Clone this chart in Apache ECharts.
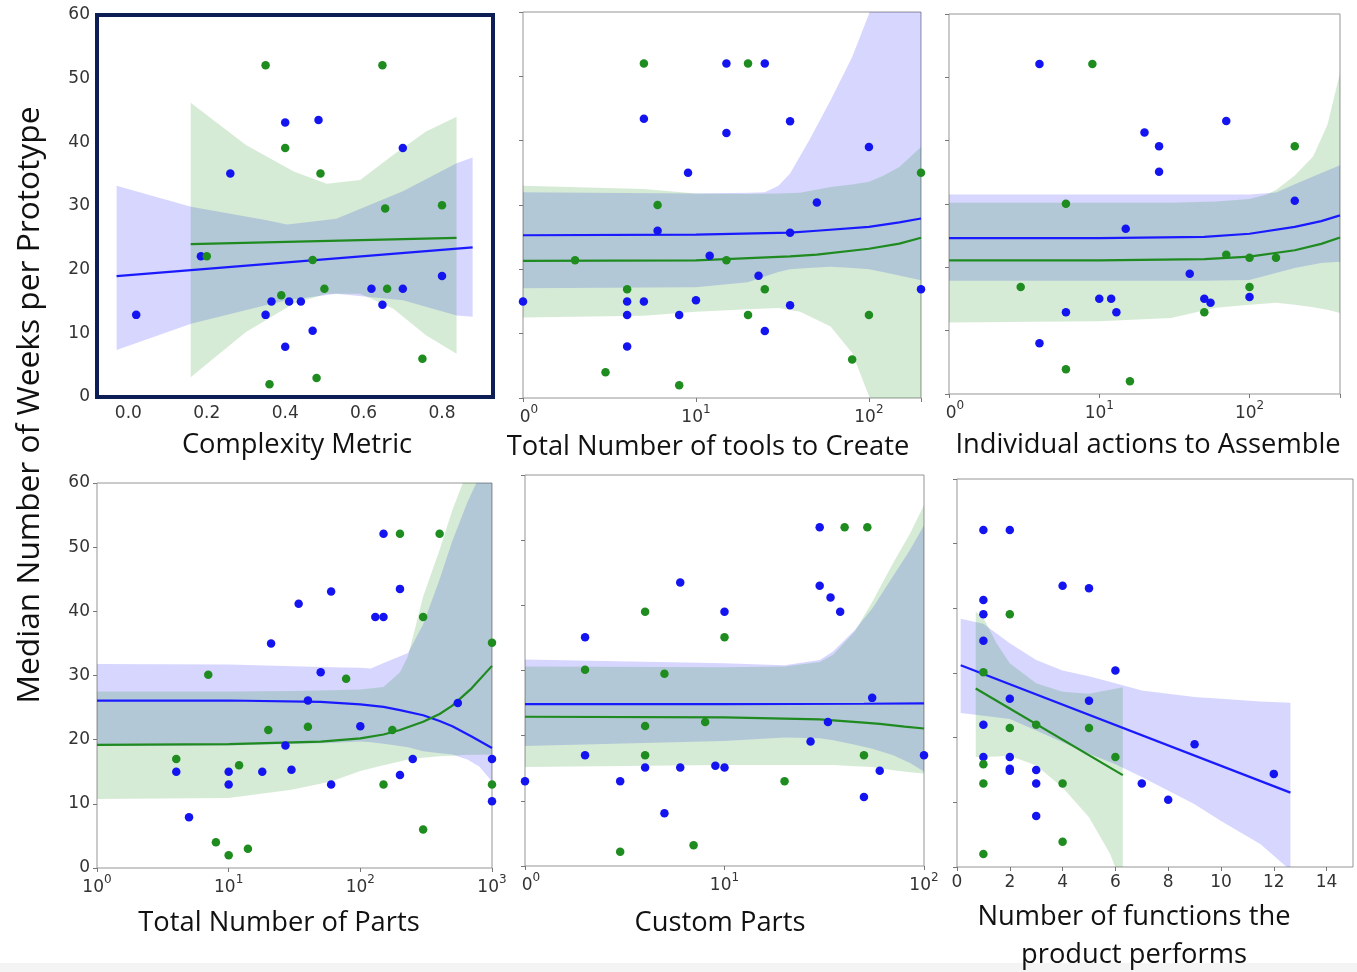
<!DOCTYPE html>
<html>
<head>
<meta charset="utf-8">
<script src="https://cdn.jsdelivr.net/npm/echarts@6/dist/echarts.min.js"></script>
<style>
html,body{margin:0;padding:0;background:#fff;}
#c{width:1357px;height:972px;}
</style>
</head>
<body>
<div id="c"></div>
<script>
// ---------------- DATA ----------------
const yTickValues = [0, 10, 20, 30, 40, 50, 60];
const p1XTicks = [0, 0.2, 0.4, 0.6, 0.8];
const p6XTicks = [0, 2, 4, 6, 8, 10, 12, 14];
// log-axis labels: [base text, exponent] per decade (first label of some panels is cropped in the source)
const p2XLabels = [['0', '0'], ['10', '1'], ['10', '2']];
const p3XLabels = [['0', '0'], ['10', '1'], ['10', '2']];
const p4XLabels = [['10', '0'], ['10', '1'], ['10', '2'], ['10', '3']];
const p5XLabels = [['0', '0'], ['10', '1'], ['10', '2']];

const xTitles = ['Complexity Metric', 'Total Number of tools to Create', 'Individual actions to Assemble',
  'Total Number of Parts', 'Custom Parts', 'Number of functions the\nproduct performs'];
const yTitle = 'Median Number of Weeks per Prototype';

// Panel 1: Complexity Metric
const p1Blue = [[0.40,43.1],[0.485,43.5],[0.70,39.1],[0.26,35.1],[0.185,22.1],[0.80,19.0],[0.62,17.0],[0.70,17.0],[0.365,15.0],[0.41,15.0],[0.44,15.0],[0.648,14.5],[0.02,12.9],[0.35,12.9],[0.47,10.4],[0.40,7.9]];
const p1Green = [[0.35,52.1],[0.648,52.1],[0.40,39.1],[0.49,35.1],[0.655,29.6],[0.80,30.1],[0.20,22.1],[0.47,21.5],[0.39,16.0],[0.50,17.0],[0.66,17.0],[0.75,6.0],[0.48,3.0],[0.36,2.0]];
const p1BlueLine = [[-0.03,19.0],[0.878,23.5]];
const p1GreenLine = [[0.159,24.0],[0.837,25.0]];
const p1BlueBand = [[-0.03,7.4,33.2],[0.16,11.5,29.9],[0.35,14.4,27.8],[0.405,15.2,27.1],[0.53,16.2,28.0],[0.70,15.2,32.3],[0.837,12.8,36.7],[0.878,12.6,37.6]];
const p1GreenBand = [[0.159,3.1,46.2],[0.30,10.2,39.6],[0.422,14.7,35.4],[0.506,16.2,33.5],[0.591,16.2,34.1],[0.675,13.9,38.0],[0.759,9.7,41.7],[0.837,6.8,44.0]];

// Panel 2: Total Number of tools to Create
const p2Blue = [[15,52],[25,52],[5,43.4],[35,43.0],[15,41.2],[100,39.0],[9,35.0],[50,30.4],[6,26.0],[35,25.7],[12,22.1],[23,19.0],[1,15.0],[4,15.0],[5,15.0],[10,15.2],[4,12.9],[8,12.9],[35,14.4],[25,10.4],[4,8.0],[200,16.9]];
const p2Green = [[5,52],[20,52],[6,30.0],[200,35.0],[2,21.4],[15,21.4],[4,16.9],[25,16.9],[20,12.9],[100,12.9],[80,6.0],[3,4.0],[8,2.0]];
const p2BlueLine = [[1,25.3],[10,25.4],[35,25.7],[50,26.0],[100,26.6],[150,27.3],[200,27.9]];
const p2GreenLine = [[1,21.3],[10,21.4],[35,22.0],[50,22.3],[100,23.2],[150,24.0],[200,24.9]];
const p2BlueBand = [[1,17.05,32.0],[10,17.2,31.8],[20,18.0,31.9],[25,18.9,32.0],[30,19.6,33.0],[35,20.0,34.9],[45,20.2,40.0],[60,20.4,46.3],[80,20.2,53.0],[100,20.0,59.7],[120,19.6,66],[200,18.3,90]];
const p2GreenBand = [[1,12.5,33.0],[5,12.8,32.5],[10,13.4,31.8],[20,13.8,31.7],[30,14.0,31.8],[40,13.4,31.9],[60,11.1,32.8],[80,7.0,33.2],[100,0.3,33.6],[120,-5,34.5],[150,-12,35.9],[200,-20,39.0]];

// Panel 3: Individual actions to Assemble
const p3Blue = [[4,52.1],[70,43.1],[20,41.3],[25,39.1],[25,35.1],[200,30.5],[15,26.1],[40,19.0],[10,15.05],[12,15.05],[13,12.9],[6,12.9],[50,15.05],[55,14.4],[100,15.3],[4,8.0]];
const p3Green = [[9,52.1],[200,39.1],[6,30.05],[70,22.0],[100,21.5],[150,21.5],[3,16.9],[100,16.9],[50,12.9],[6,3.9],[16,2.0]];
const p3BlueLine = [[1,24.6],[10,24.6],[50,24.8],[100,25.3],[200,26.4],[300,27.3],[400,28.2]];
const p3GreenLine = [[1,21.1],[10,21.1],[50,21.3],[100,21.7],[200,22.7],[300,23.7],[400,24.7]];
const p3BlueBand = [[1,17.9,31.5],[10,17.9,31.5],[50,17.9,31.5],[100,18.0,31.5],[150,19.1,31.8],[200,19.9,33.1],[300,20.7,34.9],[400,20.9,36.1]];
const p3GreenBand = [[1,11.3,30.2],[10,11.5,30.2],[30,12.0,30.2],[60,13.6,30.4],[100,14.1,30.8],[130,14.3,31.5],[150,14.4,32.2],[200,14.1,34.5],[265,13.7,37.5],[330,13.3,42.5],[400,12.8,50.7]];

// Panel 4: Total Number of Parts
const p4Blue = [[150,52.1],[200,43.5],[60,43.1],[34,41.2],[130,39.1],[150,39.1],[21,35.0],[50,30.5],[40,26.1],[550,25.7],[100,22.1],[27,19.1],[250,17.0],[1000,17.0],[4,15.0],[10,15.0],[18,15.0],[30,15.3],[200,14.5],[10,13.0],[60,13.0],[1000,10.4],[5,7.9]];
const p4Green = [[200,52.1],[400,52.1],[300,39.1],[1000,35.1],[7,30.1],[78,29.5],[20,21.5],[40,22.0],[175,21.5],[4,17.0],[12,16.0],[150,13.0],[1000,13.0],[300,6.0],[8,4.0],[14,3.0],[10,2.0]];
const p4BlueLine = [[1,26.1],[10,26.1],[50,25.9],[100,25.5],[150,25.1],[200,24.6],[300,23.8],[400,22.9],[500,22.1],[700,20.5],[1000,18.7]];
const p4GreenLine = [[1,19.2],[10,19.3],[50,19.7],[100,20.2],[150,20.8],[200,21.5],[300,22.8],[400,24.0],[500,25.3],[700,28.0],[1000,31.5]];
const p4BlueBand = [[1,19.0,31.8],[10,19.1,31.7],[60,19.5,31.3],[100,19.7,31.2],[120,19.6,31.1],[160,19.3,32.2],[230,18.8,33.5],[300,18.2,38],[400,17.9,45],[500,17.7,51],[650,16.9,57],[800,15.8,61],[1000,13.5,66]];
const p4GreenBand = [[1,10.75,27.5],[10,10.9,27.5],[30,12.2,27.6],[60,13.5,27.7],[100,15.1,27.8],[150,16.0,28.2],[200,16.6,30.5],[230,16.9,33],[300,17.2,42.3],[400,17.4,49.6],[500,17.5,55.8],[600,17.6,60],[1000,17.7,75]];

// Panel 5: Custom Parts
const p5Blue = [[30,52],[30,43.0],[34,41.2],[6,43.5],[38,39.0],[10,39.0],[2,35.1],[55,25.8],[33,22.1],[27,19.1],[2,17.0],[100,17.0],[4,15.1],[6,15.1],[9,15.4],[10,15.1],[60,14.6],[1,13.0],[3,13.0],[50,10.6],[5,8.1]];
const p5Green = [[40,52],[52,52],[4,39.0],[10,35.1],[2,30.1],[5,29.5],[4,21.5],[8,22.1],[4,17.0],[50,17.0],[20,13.0],[7,3.2],[3,2.2]];
const p5BlueLine = [[1,24.85],[10,24.85],[50,24.9],[100,24.95]];
const p5GreenLine = [[1,22.9],[10,22.8],[30,22.5],[50,22.0],[60,21.8],[80,21.4],[100,21.1]];
const p5BlueBand = [[1,18.4,31.7],[10,19.2,31.1],[20,19.7,30.8],[30,19.6,31.6],[35,19.3,32.9],[45,18.6,36.2],[55,18.0,39.5],[70,17.0,44.5],[85,15.8,48.5],[100,14.5,52.3]];
const p5GreenBand = [[1,15.2,30.6],[10,15.5,30.5],[20,15.5,30.6],[30,15.5,31.3],[35,15.5,32.4],[45,15.3,36.0],[55,15.2,40.5],[70,14.7,46.5],[85,14.4,51.0],[100,14.2,55.4]];

// Panel 6: Number of functions the product performs
const p6Blue = [[1,52.1],[2,52.1],[4,43.5],[5,43.1],[1,41.3],[1,39.1],[1,35.0],[6,30.4],[2,26.0],[5,25.7],[1,22.0],[9,19.0],[1,17.0],[2,17.0],[2,15.2],[2,14.9],[3,15.0],[3,12.9],[7,12.9],[12,14.4],[8,10.4],[3,7.9]];
const p6Green = [[2,39.1],[1,30.1],[3,22.0],[2,21.5],[5,21.5],[6,17.0],[1,15.9],[1,12.9],[4,12.9],[4,3.9],[1,2.0]];
const p6BlueLine = [[0.14,31.2],[12.63,11.5]];
const p6GreenLine = [[0.71,27.6],[6.28,14.2]];
const p6BlueBand = [[0.14,23.8,38.4],[1,23.4,37.6],[2,22.9,34.6],[3,21.1,32.0],[4,19.3,30.4],[5,17.5,29.5],[6,15.9,28.4],[7,13.9,27.3],[9,9.7,26.3],[10,7.1,26.0],[11.5,3.5,25.6],[12.63,-0.5,25.4]];
const p6GreenBand = [[0.71,17.0,39.5],[1,17.0,38.5],[1.5,17.1,34.6],[2,17.2,31.5],[3,15.7,28.4],[4,12.3,27.1],[5,7.7,26.8],[5.8,2.0,27.4],[6.28,-3,27.8]];

// ---------------- STYLE / LAYOUT ----------------
const BLUE_DOT = '#1414f0', GREEN_DOT = '#1f8c1f';
const BLUE_LINE = '#1a1aff', GREEN_LINE = '#1f8a1f';
const BLUE_FILL = 'rgba(0,0,255,0.16)', GREEN_FILL = 'rgba(0,128,0,0.16)';
const TICK_FONT = {fontFamily: 'DejaVu Sans', fontSize: 17, color: '#333'};
const TITLE_FONT = '"Open Sans", "Noto Sans", sans-serif';

const grids = [
  {left: 97, top: 15, width: 396, height: 382},
  {left: 523, top: 12, width: 398, height: 386},
  {left: 949, top: 14, width: 391, height: 380},
  {left: 97, top: 483, width: 395, height: 385},
  {left: 525, top: 475, width: 399, height: 391},
  {left: 957, top: 479, width: 396, height: 388}
];

function logLabeler(labels) {
  return function (v) {
    const lv = Math.log10(v);
    const e = Math.round(lv);
    if (Math.abs(lv - e) > 1e-6) return '';
    const t = labels[e];
    if (t === undefined) return '';
    const base = t[0] === '0' ? '{s|' + t[0] + '}' : '{b|' + t[0] + '}';
    return base + '{sup|' + t[1] + '}';
  };
}
const logRich = {
  b: {fontFamily: 'DejaVu Sans', fontSize: 17, color: '#333', lineHeight: 22, verticalAlign: 'bottom'},
  s: {fontFamily: 'DejaVu Sans', fontSize: 17, color: '#333', lineHeight: 22, verticalAlign: 'bottom', padding: [0, 0, 0, 12]},
  sup: {fontFamily: 'DejaVu Sans', fontSize: 12, color: '#333', lineHeight: 22, verticalAlign: 'top'}
};

const tickStyle = {show: true, length: 4, lineStyle: {color: '#777'}};
const xAxes = [
  {type: 'value', min: -0.08, max: 0.93,
   axisLabel: Object.assign({customValues: p1XTicks, margin: 8, formatter: v => v.toFixed(1)}, TICK_FONT),
   axisTick: {show: false, customValues: p1XTicks}},
  {type: 'log', logBase: 10, min: 1, max: 200,
   axisLabel: {margin: 6, formatter: logLabeler(p2XLabels), rich: logRich, showMaxLabel: true, showMinLabel: true}},
  {type: 'log', logBase: 10, min: 1, max: 400,
   axisLabel: {margin: 6, formatter: logLabeler(p3XLabels), rich: logRich, showMaxLabel: true, showMinLabel: true}},
  {type: 'log', logBase: 10, min: 1, max: 1000,
   axisLabel: {margin: 6, formatter: logLabeler(p4XLabels), rich: logRich, showMaxLabel: true, showMinLabel: true}},
  {type: 'log', logBase: 10, min: 1, max: 100,
   axisLabel: {margin: 6, formatter: logLabeler(p5XLabels), rich: logRich, showMaxLabel: true, showMinLabel: true}},
  {type: 'value', min: 0, max: 15,
   axisLabel: Object.assign({customValues: p6XTicks, margin: 7}, TICK_FONT),
   axisTick: {customValues: p6XTicks}}
].map((a, i) => Object.assign({
  gridIndex: i,
  axisLine: {show: false},
  splitLine: {show: false}
}, a, {axisTick: Object.assign({}, tickStyle, a.axisTick || {})}));

const yAxes = grids.map((g, i) => ({
  gridIndex: i, type: 'value', min: yTickValues[0], max: yTickValues[yTickValues.length - 1], interval: 10,
  axisLine: {show: false},
  splitLine: {show: false},
  axisTick: Object.assign({}, tickStyle, {show: i !== 0}),
  axisLabel: Object.assign({show: i === 0 || i === 3, margin: 7}, TICK_FONT)
}));

function bandSeries(gi, band, fill) {
  return {
    type: 'custom', xAxisIndex: gi, yAxisIndex: gi, silent: true, z: 1,
    data: band, encode: {x: 0, y: [1, 2]},
    renderItem: function (params, api) {
      if (params.dataIndex !== 0) return null;
      const up = band.map(r => api.coord([r[0], r[2]]));
      const lo = band.map(r => api.coord([r[0], r[1]])).reverse();
      const cs = params.coordSys;
      return {
        type: 'polygon',
        shape: {points: up.concat(lo)},
        style: {fill: fill, stroke: null},
        clipPath: {type: 'rect', shape: {x: cs.x, y: cs.y, width: cs.width, height: cs.height}}
      };
    }
  };
}
function lineSeries(gi, data, color) {
  return {type: 'line', xAxisIndex: gi, yAxisIndex: gi, data: data, showSymbol: false, silent: true,
    smooth: false, z: 3, lineStyle: {color: color, width: 2.2}};
}
function dotSeries(gi, data, color) {
  return {type: 'scatter', xAxisIndex: gi, yAxisIndex: gi, data: data, symbolSize: 8.5, silent: true,
    z: 4, itemStyle: {color: color, opacity: 1}};
}

const panelData = [
  [p1Blue, p1Green, p1BlueLine, p1GreenLine, p1BlueBand, p1GreenBand],
  [p2Blue, p2Green, p2BlueLine, p2GreenLine, p2BlueBand, p2GreenBand],
  [p3Blue, p3Green, p3BlueLine, p3GreenLine, p3BlueBand, p3GreenBand],
  [p4Blue, p4Green, p4BlueLine, p4GreenLine, p4BlueBand, p4GreenBand],
  [p5Blue, p5Green, p5BlueLine, p5GreenLine, p5BlueBand, p5GreenBand],
  [p6Blue, p6Green, p6BlueLine, p6GreenLine, p6BlueBand, p6GreenBand]
];

const series = [];
panelData.forEach((p, i) => {
  series.push(bandSeries(i, p[4], BLUE_FILL));
  series.push(bandSeries(i, p[5], GREEN_FILL));
  series.push(lineSeries(i, p[2], BLUE_LINE));
  series.push(lineSeries(i, p[3], GREEN_LINE));
  series.push(dotSeries(i, p[0], BLUE_DOT));
  series.push(dotSeries(i, p[1], GREEN_DOT));
});

const titlePos = [[297, 445], [708, 447], [1148, 445], [279, 923], [720, 923], [1134, 936]];
const graphics = [
  {type: 'rect', shape: {x: 0, y: 963, width: 1357, height: 9}, style: {fill: '#f4f4f4'}, silent: true, z: -1},
  {type: 'text', x: 30, y: 405, rotation: Math.PI / 2, silent: true,
   style: {text: yTitle, fontFamily: TITLE_FONT, fontSize: 31.7, fill: '#111', align: 'center', verticalAlign: 'middle'}}
];
xTitles.forEach((t, i) => {
  graphics.push({type: 'text', x: titlePos[i][0], y: titlePos[i][1], silent: true,
    style: {text: t, fontFamily: TITLE_FONT, fontSize: 27.3, lineHeight: 38, fill: '#111', align: 'center', verticalAlign: 'middle'}});
});

const option = {
  backgroundColor: '#ffffff',
  animation: false,
  grid: grids.map((g, i) => Object.assign({show: true, backgroundColor: 'transparent',
    borderColor: i === 0 ? '#0d1e56' : '#959595', borderWidth: i === 0 ? 4 : 1, containLabel: false}, g)),
  xAxis: xAxes,
  yAxis: yAxes,
  series: series,
  graphic: graphics
};

const chart = echarts.init(document.getElementById('c'), null, {renderer: 'canvas'});
chart.setOption(option);
</script>
</body>
</html>
